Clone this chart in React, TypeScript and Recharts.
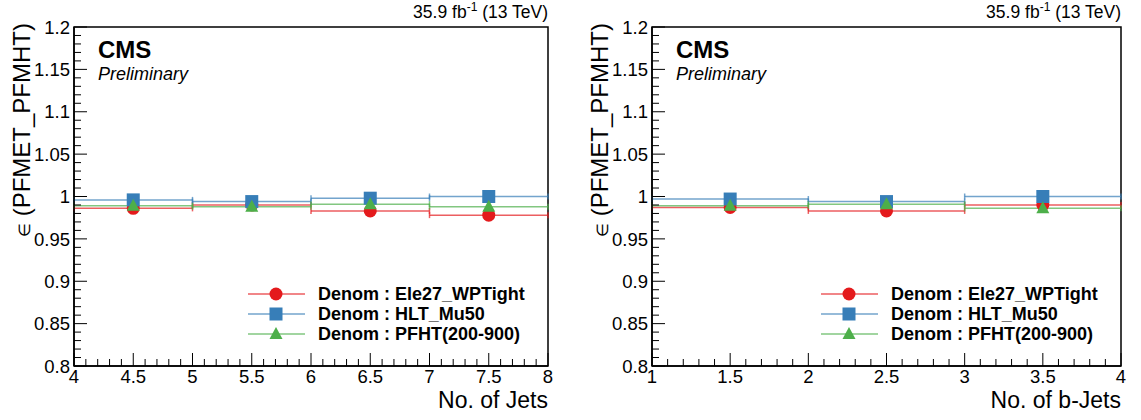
import React from 'react';
import { ScatterChart, Scatter, XAxis, YAxis, ErrorBar, ReferenceArea } from 'recharts';

// jet multiplicity panel
const jetBins = [4.5, 5.5, 6.5, 7.5];
const jetEle = [0.986, 0.99, 0.983, 0.978];
const jetMu = [0.996, 0.994, 0.998, 1.0];
const jetHT = [0.989, 0.988, 0.991, 0.988];
const jetMajorTicks = [4, 4.5, 5, 5.5, 6, 6.5, 7, 7.5, 8];

// b-jet multiplicity panel
const bjetBins = [1.5, 2.5, 3.5];
const bjetEle = [0.987, 0.983, 0.99];
const bjetMu = [0.997, 0.994, 1.0];
const bjetHT = [0.989, 0.991, 0.986];
const bjetHTErr = [0.001, 0.001, 0.005];
const bjetMajorTicks = [1, 1.5, 2, 2.5, 3, 3.5, 4];

const yMajorTicks = [0.8, 0.85, 0.9, 0.95, 1, 1.05, 1.1, 1.15, 1.2];

const seriesNames = ['Denom : Ele27_WPTight', 'Denom : HLT_Mu50', 'Denom : PFHT(200-900)'];
const RED = '#e41a1c';
const BLUE = '#377eb8';
const GREEN = '#4daf4a';
const FONT = '"Liberation Sans", Arial, sans-serif';

const r3 = (v: number) => Math.round(v * 1000) / 1000;

// major ticks plus 4 minor ticks between each pair
const withMinor = (major: number[]) => {
  const out: number[] = [];
  for (let i = 0; i < major.length - 1; i++) {
    const step = (major[i + 1] - major[i]) / 5;
    for (let k = 0; k < 5; k++) out.push(r3(major[i] + k * step));
  }
  out.push(major[major.length - 1]);
  return out;
};

const isMajor = (v: number, major: number[]) => major.some((m) => Math.abs(m - v) < 1e-6);

const toPoints = (bins: number[], vals: number[], errs?: number[]) =>
  bins.map((b, i) => ({ x: b, y: vals[i], xErr: 0.5, yErr: errs ? errs[i] : 0.001 }));

const Circle = (p: any) => <circle cx={p.cx} cy={p.cy} r={6.5} fill={RED} />;
const Square = (p: any) => <rect x={p.cx - 6.5} y={p.cy - 6.5} width={13} height={13} fill={BLUE} />;
const Triangle = (p: any) => (
  <polygon points={`${p.cx},${p.cy - 7} ${p.cx - 6.5},${p.cy + 5} ${p.cx + 6.5},${p.cy + 5}`} fill={GREEN} />
);

const YTick = (props: any) => {
  const { x, y, payload } = props;
  const v = payload.value;
  const major = isMajor(v, yMajorTicks);
  const ax = x + 4;
  return (
    <g>
      <line x1={ax} x2={ax + (major ? 13 : 7)} y1={y} y2={y} stroke="#000" strokeWidth={1} />
      {major && (
        <text x={x} y={y} dy="0.36em" textAnchor="end" fontSize={18.5} fontFamily={FONT} fill="#000">
          {String(v)}
        </text>
      )}
    </g>
  );
};

const makeXTick = (major: number[]) => (props: any) => {
  const { x, y, payload } = props;
  const v = payload.value;
  const isMaj = isMajor(v, major);
  const ay = y - 2;
  return (
    <g>
      <line x1={x} x2={x} y1={ay} y2={ay - (isMaj ? 13 : 7)} stroke="#000" strokeWidth={1} />
      {isMaj && (
        <text x={x} y={ay + 17} textAnchor="middle" fontSize={18.5} fontFamily={FONT} fill="#000">
          {String(v)}
        </text>
      )}
    </g>
  );
};

const LegendRow = ({ color, mark, label }: { color: string; mark: string; label: string }) => (
  <div style={{ display: 'flex', alignItems: 'center', height: 20 }}>
    <svg width={70} height={20}>
      <line x1={0} x2={57} y1={10} y2={10} stroke={color} strokeOpacity={0.7} strokeWidth={1.5} />
      {mark === 'c' && <circle cx={28} cy={10} r={6.5} fill={RED} />}
      {mark === 's' && <rect x={21.5} y={3.5} width={13} height={13} fill={BLUE} />}
      {mark === 't' && <polygon points="28,3 21.5,15 34.5,15" fill={GREEN} />}
    </svg>
    <span style={{ fontWeight: 'bold', fontSize: 18, fontFamily: FONT, lineHeight: '20px' }}>{label}</span>
  </div>
);

interface PanelProps {
  left: number;
  width: number;
  bins: number[];
  ele: number[];
  mu: number[];
  ht: number[];
  htErr?: number[];
  majorTicks: number[];
  xTitle: string;
  legendLeft: number;
}

const Panel: React.FC<PanelProps> = ({ left, width, bins, ele, mu, ht, htErr, majorTicks, xTitle, legendLeft }) => {
  const xMin = majorTicks[0];
  const xMax = majorTicks[majorTicks.length - 1];
  const plotRight = width - 20;
  const XTick = makeXTick(majorTicks);
  return (
    <div style={{ position: 'absolute', left, top: 0, width, height: 420 }}>
      <ScatterChart width={width} height={420} margin={{ top: 27, right: 20, bottom: 0, left: 0 }}>
        <XAxis
          type="number"
          dataKey="x"
          domain={[xMin, xMax]}
          ticks={withMinor(majorTicks)}
          interval={0}
          tickSize={0}
          tickMargin={2}
          tick={XTick}
          height={54}
          axisLine={{ stroke: '#000', strokeWidth: 1.5 }}
          allowDataOverflow
        />
        <YAxis
          type="number"
          dataKey="y"
          domain={[0.8, 1.2]}
          ticks={withMinor(yMajorTicks)}
          interval={0}
          tickSize={0}
          tickMargin={4}
          tick={YTick}
          width={74}
          axisLine={{ stroke: '#000', strokeWidth: 1.5 }}
          allowDataOverflow
        />
        <ReferenceArea x1={xMin} x2={xMax} y1={0.8} y2={1.2} stroke="#000" strokeWidth={1.5} fill="none" fillOpacity={0} />
        <Scatter data={toPoints(bins, ele)} fill={RED} shape={Circle} isAnimationActive={false}>
          <ErrorBar dataKey="xErr" direction="x" width={3} stroke={RED} strokeOpacity={0.7} strokeWidth={1.5} />
          <ErrorBar dataKey="yErr" direction="y" width={0} stroke={RED} strokeWidth={1} />
        </Scatter>
        <Scatter data={toPoints(bins, mu)} fill={BLUE} shape={Square} isAnimationActive={false}>
          <ErrorBar dataKey="xErr" direction="x" width={3} stroke={BLUE} strokeOpacity={0.7} strokeWidth={1.5} />
          <ErrorBar dataKey="yErr" direction="y" width={0} stroke={BLUE} strokeWidth={1} />
        </Scatter>
        <Scatter data={toPoints(bins, ht, htErr)} fill={GREEN} shape={Triangle} isAnimationActive={false}>
          <ErrorBar dataKey="xErr" direction="x" width={3} stroke={GREEN} strokeOpacity={0.7} strokeWidth={1.5} />
          <ErrorBar dataKey="yErr" direction="y" width={0} stroke={GREEN} strokeWidth={1} />
        </Scatter>
      </ScatterChart>
      <svg width={width} height={420} style={{ position: 'absolute', left: 0, top: 0, pointerEvents: 'none' }}>
        <text x={plotRight} y={18} textAnchor="end" fontSize={17.5} fontFamily={FONT}>
          35.9 fb<tspan dy={-7} fontSize={12}>-1</tspan>
          <tspan dy={7}> (13 TeV)</tspan>
        </text>
        <text x={98} y={58} fontSize={24} fontWeight="bold" fontFamily={FONT}>CMS</text>
        <text x={98} y={80} fontSize={18} fontStyle="italic" fontFamily={FONT}>Preliminary</text>
        <text transform="translate(30, 23) rotate(-90)" textAnchor="end" fontSize={24} fontFamily={FONT}>
          <tspan fontSize={16}>∈</tspan> (PFMET_PFMHT)
        </text>
        <text x={plotRight} y={408} textAnchor="end" fontSize={23} fontFamily={FONT}>{xTitle}</text>
      </svg>
      <div style={{ position: 'absolute', left: legendLeft, top: 284 }}>
        <LegendRow color={RED} mark="c" label={seriesNames[0]} />
        <LegendRow color={BLUE} mark="s" label={seriesNames[1]} />
        <LegendRow color={GREEN} mark="t" label={seriesNames[2]} />
      </div>
    </div>
  );
};

const App: React.FC = () => (
  <div style={{ position: 'absolute', left: 0, top: 0, width: 1141, height: 420, background: '#fff' }}>
    <Panel
      left={0}
      width={568}
      bins={jetBins}
      ele={jetEle}
      mu={jetMu}
      ht={jetHT}
      majorTicks={jetMajorTicks}
      xTitle="No. of Jets"
      legendLeft={248}
    />
    <Panel
      left={578}
      width={563}
      bins={bjetBins}
      ele={bjetEle}
      mu={bjetMu}
      ht={bjetHT}
      htErr={bjetHTErr}
      majorTicks={bjetMajorTicks}
      xTitle="No. of b-Jets"
      legendLeft={243}
    />
  </div>
);

export default App;
